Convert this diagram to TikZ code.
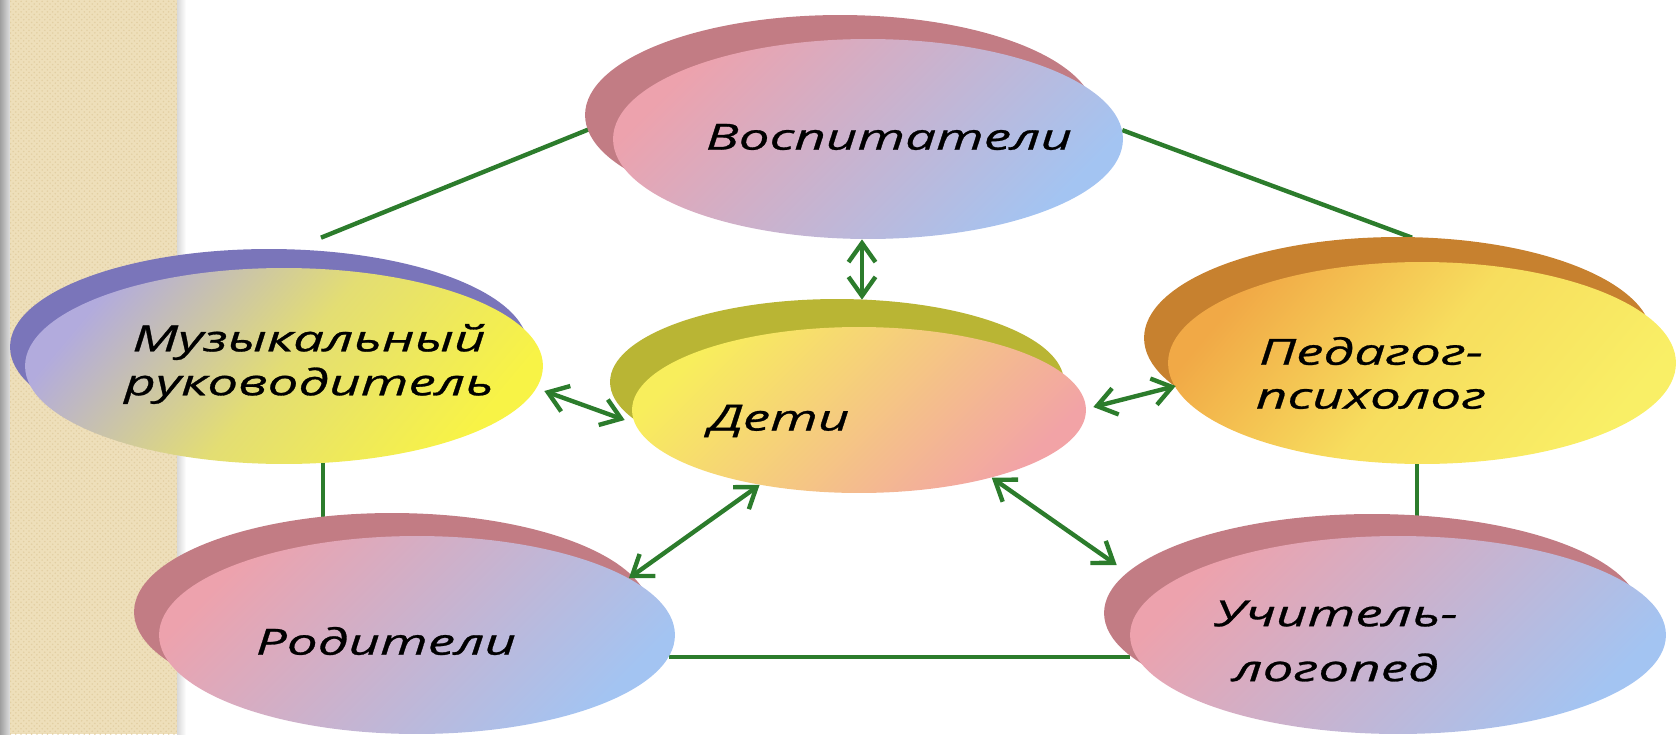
\documentclass[tikz,border=0pt]{standalone}
\usepackage{fontspec}
\newfontfamily\lblfont{Open Sans Italic}[FakeStretch=1.52, FakeBold=0.8]
\usetikzlibrary{shapes.geometric,arrows.meta,calc,backgrounds,patterns,shadows}

\definecolor{stripbeige}{HTML}{EEDFBA}
\definecolor{stripdot}{HTML}{E2CFA3}
\definecolor{linkgreen}{HTML}{2C7C2C}
\definecolor{roseshade}{HTML}{C27C84}
\definecolor{rosetop}{HTML}{EDA2AD}
\definecolor{bluebot}{HTML}{A3C4F2}
\definecolor{plumshade}{HTML}{7A75BA}
\definecolor{plumtop}{HTML}{B2ABDD}
\definecolor{lemonbot}{HTML}{F8F346}
\definecolor{oliveshade}{HTML}{B9B534}
\definecolor{lemontop}{HTML}{F8EE5C}
\definecolor{pinkbot}{HTML}{F2A3A6}
\definecolor{rustshade}{HTML}{C7812F}
\definecolor{orangetop}{HTML}{F1A946}
\definecolor{sunbot}{HTML}{F9EF66}

\begin{document}
\begin{tikzpicture}[x=0.02cm, y=-0.02cm,
    blob/.style={ellipse, inner sep=0pt},
    lift/.style n args={3}{general shadow={fill=#1, shadow xshift=#2, shadow yshift=#3}},
    roseblob/.style={blob, top color=rosetop, bottom color=bluebot, shading angle=45},
    plumblob/.style={blob, top color=plumtop, bottom color=lemonbot, middle color=lemonbot!70!plumtop, shading angle=50},
    lemonblob/.style={blob, top color=lemontop, bottom color=pinkbot, shading angle=45},
    rustblob/.style={blob, top color=orangetop, bottom color=sunbot, middle color=sunbot!75!orangetop, shading angle=50},
    lbl/.style={align=center, font=\lblfont\fontsize{20.5}{25}\selectfont},
    link/.style={draw=linkgreen, line width=2.5pt},
    twoway/.style={link, {Straight Barb[length=0.38cm,width=0.54cm]}-{Straight Barb[length=0.38cm,width=0.54cm]}}]
    \useasboundingbox (0,0) rectangle (1680,734);
    \clip (0,0) rectangle (1680,734);

    % Left strip
    \shade[left color=gray!75, right color=gray!25] (0,0) rectangle (10,734);
    \fill[stripbeige] (10,0) rectangle (177,734);
    \fill[pattern=crosshatch dots, pattern color=stripdot] (10,0) rectangle (177,734);
    \shade[left color=gray!30, right color=white] (177,0) rectangle (186,734);

    % Ellipses
    \node[roseblob, lift={roseshade}{-0.56cm}{0.48cm}, minimum width=10.2cm, minimum height=4cm] (vosp) at (868,139) {};
    \node[plumblob, lift={plumshade}{-0.3cm}{0.38cm}, minimum width=10.36cm, minimum height=3.92cm] (muz) at (284,366) {};
    \node[rustblob, lift={rustshade}{-0.48cm}{0.5cm}, minimum width=10.16cm, minimum height=4.04cm] (ped) at (1422,363) {};
    \node[lemonblob, lift={oliveshade}{-0.44cm}{0.56cm}, minimum width=9.08cm, minimum height=3.32cm] (deti) at (859,410) {};
    \node[roseblob, lift={roseshade}{-0.5cm}{0.46cm}, minimum width=10.32cm, minimum height=3.96cm] (rod) at (417,635) {};
    \node[roseblob, lift={roseshade}{-0.52cm}{0.44cm}, minimum width=10.72cm, minimum height=3.96cm] (uch) at (1398,635) {};

    % Labels
    \node[lbl] (vosp-t) at (889,137) {Воспитатели};
    \node[lbl] (muz-t) at (309,364) {Музыкальный\\руководитель};
    \node[lbl] (ped-t) at (1371,373) {Педагог-\\психолог};
    \node[lbl] (deti-t) at (779,421) {Дети};
    \node[lbl] (rod-t) at (386,641) {Родители};
    \node[lbl] (uch-t) at (1336,641) {Учитель-\\[0.22cm]логопед};

    % Frame lines
    \begin{scope}[on background layer]
        \draw[link] ($(muz.north)+(37,-30)$) -- (vosp.175);
        \draw[link] (vosp.2) -- ($(ped.north)+(-10,-24)$);
        \draw[link] (muz.-68) -- (muz.-68 |- rod.north);
        \draw[link] (ped.-93) -- (ped.-93 |- uch.north);
        \draw[link] (rod.-5) -- (rod.-5 -| uch.west);
    \end{scope}

    % Arrows to the children
    \draw[twoway] ($(vosp.south)+(-6,0)$) -- ($(deti.north)+(3,-27)$);
    \draw[twoway] ($(muz.east)+(1,25)$) -- ($(deti.west)+(-7,10)$);
    \draw[twoway] ($(deti.east)+(7,-3)$) -- ($(ped.west)+(8,23)$);
    \draw[twoway] (deti.-143) -- (rod.15);
    \draw[twoway] (deti.-27) -- ($(uch.west)+(-13,-70)$);
\end{tikzpicture}
\end{document}
